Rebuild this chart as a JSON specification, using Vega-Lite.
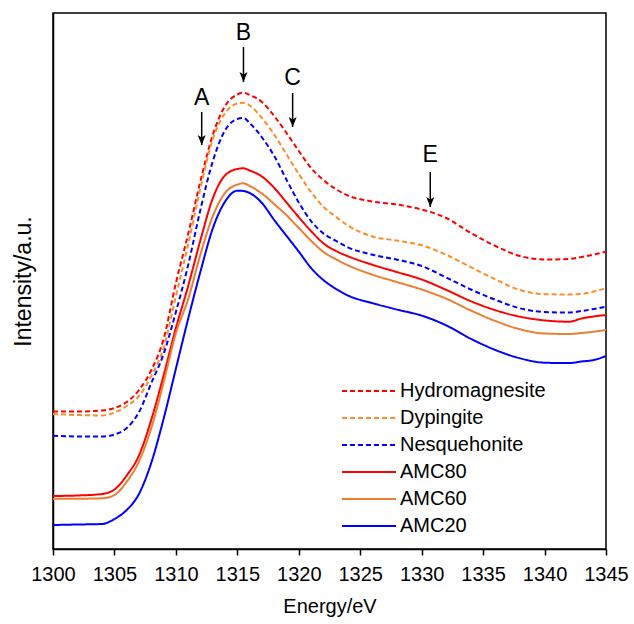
{
  "$schema": "https://vega.github.io/schema/vega-lite/v6.json",
  "width": 553,
  "height": 536,
  "autosize": {"type": "none"},
  "padding": {"left": 53, "top": 13, "right": 28, "bottom": 75},
  "background": "white",
  "config": {
    "font": "Liberation Sans",
    "view": {"stroke": "black", "strokeWidth": 1.5},
    "axis": {
      "labelFont": "Liberation Sans",
      "titleFont": "Liberation Sans",
      "labelColor": "black",
      "titleColor": "black",
      "domainColor": "black",
      "tickColor": "black",
      "grid": false,
      "titleFontWeight": "normal"
    }
  },
  "datasets": {
    "spectra": [
      {"E": 1300, "Hydromagnesite": 137.5, "Dypingite": 135, "Nesquehonite": 113.3, "AMC80": 53, "AMC60": 50.3, "AMC20": 24},
      {"E": 1302, "Hydromagnesite": 137.5, "Dypingite": 134, "Nesquehonite": 112.5, "AMC80": 53.5, "AMC60": 50.3, "AMC20": 24.5},
      {"E": 1304, "Hydromagnesite": 138.5, "Dypingite": 133.5, "Nesquehonite": 112.5, "AMC80": 55, "AMC60": 50.7, "AMC20": 25},
      {"E": 1305, "Hydromagnesite": 141, "Dypingite": 136.5, "Nesquehonite": 114.5, "AMC80": 59.5, "AMC60": 54, "AMC20": 30},
      {"E": 1306, "Hydromagnesite": 147, "Dypingite": 143, "Nesquehonite": 121, "AMC80": 73.5, "AMC60": 67.3, "AMC20": 39},
      {"E": 1307, "Hydromagnesite": 159, "Dypingite": 153, "Nesquehonite": 137, "AMC80": 93.7, "AMC60": 87.7, "AMC20": 55.2},
      {"E": 1308, "Hydromagnesite": 179, "Dypingite": 173, "Nesquehonite": 166, "AMC80": 129.3, "AMC60": 121, "AMC20": 86.3},
      {"E": 1309, "Hydromagnesite": 210, "Dypingite": 201, "Nesquehonite": 195, "AMC80": 173.5, "AMC60": 166.6, "AMC20": 130.2},
      {"E": 1310, "Hydromagnesite": 266, "Dypingite": 253, "Nesquehonite": 237, "AMC80": 221, "AMC60": 215.8, "AMC20": 180.3},
      {"E": 1311, "Hydromagnesite": 315, "Dypingite": 304.5, "Nesquehonite": 284, "AMC80": 263, "AMC60": 250, "AMC20": 230.3},
      {"E": 1312, "Hydromagnesite": 368, "Dypingite": 361, "Nesquehonite": 339.5, "AMC80": 309, "AMC60": 294.7, "AMC20": 277.5},
      {"E": 1313, "Hydromagnesite": 414, "Dypingite": 409.8, "Nesquehonite": 387.6, "AMC80": 350.6, "AMC60": 332.7, "AMC20": 320.5},
      {"E": 1314, "Hydromagnesite": 443, "Dypingite": 435.8, "Nesquehonite": 418.7, "AMC80": 373.6, "AMC60": 356.1, "AMC20": 347.4},
      {"E": 1315, "Hydromagnesite": 454.5, "Dypingite": 445.5, "Nesquehonite": 430, "AMC80": 380, "AMC60": 364.4, "AMC20": 358.3},
      {"E": 1315.5, "Hydromagnesite": 456.3, "Dypingite": 446.3, "Nesquehonite": 431, "AMC80": 380.7, "AMC60": 365.7, "AMC20": 358},
      {"E": 1316, "Hydromagnesite": 454, "Dypingite": 443.5, "Nesquehonite": 426, "AMC80": 378.5, "AMC60": 363, "AMC20": 356},
      {"E": 1317, "Hydromagnesite": 447, "Dypingite": 431, "Nesquehonite": 411.7, "AMC80": 372.5, "AMC60": 355.5, "AMC20": 346},
      {"E": 1318, "Hydromagnesite": 433, "Dypingite": 414.4, "Nesquehonite": 393, "AMC80": 361.2, "AMC60": 344.9, "AMC20": 329},
      {"E": 1319, "Hydromagnesite": 416, "Dypingite": 394.6, "Nesquehonite": 369.3, "AMC80": 346.5, "AMC60": 333.8, "AMC20": 313.2},
      {"E": 1320, "Hydromagnesite": 398, "Dypingite": 375, "Nesquehonite": 346.5, "AMC80": 331.8, "AMC60": 321, "AMC20": 297.4},
      {"E": 1321, "Hydromagnesite": 381, "Dypingite": 357, "Nesquehonite": 327.9, "AMC80": 317.9, "AMC60": 308.3, "AMC20": 281},
      {"E": 1322, "Hydromagnesite": 369, "Dypingite": 342.2, "Nesquehonite": 315.6, "AMC80": 305.7, "AMC60": 297.2, "AMC20": 269},
      {"E": 1323, "Hydromagnesite": 360, "Dypingite": 332.4, "Nesquehonite": 308.3, "AMC80": 298.2, "AMC60": 289.9, "AMC20": 260.3},
      {"E": 1324, "Hydromagnesite": 353.5, "Dypingite": 323.4, "Nesquehonite": 301.7, "AMC80": 292.8, "AMC60": 283.7, "AMC20": 253.5},
      {"E": 1326, "Hydromagnesite": 347.5, "Dypingite": 312.5, "Nesquehonite": 294.2, "AMC80": 284.2, "AMC60": 274.3, "AMC20": 245.9},
      {"E": 1328, "Hydromagnesite": 344.5, "Dypingite": 308.4, "Nesquehonite": 289.3, "AMC80": 276.9, "AMC60": 266.9, "AMC20": 239.4},
      {"E": 1330, "Hydromagnesite": 339.5, "Dypingite": 303.8, "Nesquehonite": 283, "AMC80": 269.5, "AMC60": 259.5, "AMC20": 233.4},
      {"E": 1332, "Hydromagnesite": 331, "Dypingite": 294.2, "Nesquehonite": 271.5, "AMC80": 259.1, "AMC60": 250.3, "AMC20": 223.6},
      {"E": 1334, "Hydromagnesite": 316, "Dypingite": 281.8, "Nesquehonite": 259.5, "AMC80": 247.8, "AMC60": 238.5, "AMC20": 210.2},
      {"E": 1336, "Hydromagnesite": 303, "Dypingite": 269.6, "Nesquehonite": 249.2, "AMC80": 238.8, "AMC60": 228, "AMC20": 199},
      {"E": 1338, "Hydromagnesite": 293, "Dypingite": 259, "Nesquehonite": 240.7, "AMC80": 232.3, "AMC60": 219.7, "AMC20": 190.7},
      {"E": 1340, "Hydromagnesite": 289.5, "Dypingite": 254.8, "Nesquehonite": 237, "AMC80": 228.6, "AMC60": 215.5, "AMC20": 186.3},
      {"E": 1342, "Hydromagnesite": 290, "Dypingite": 254.5, "Nesquehonite": 236.5, "AMC80": 227.3, "AMC60": 215, "AMC20": 185.9},
      {"E": 1343, "Hydromagnesite": 292, "Dypingite": 255, "Nesquehonite": 238, "AMC80": 230.5, "AMC60": 216, "AMC20": 187.5},
      {"E": 1344, "Hydromagnesite": 294.5, "Dypingite": 257.5, "Nesquehonite": 240, "AMC80": 232.5, "AMC60": 217.3, "AMC20": 189},
      {"E": 1345, "Hydromagnesite": 297.3, "Dypingite": 260.7, "Nesquehonite": 242.3, "AMC80": 234, "AMC60": 219, "AMC20": 193}
    ],
    "marks": [
      {"lab": "A", "E": 1312.1, "yl": 451.5, "y1": 437, "y2": 404},
      {"lab": "B", "E": 1315.5, "yl": 516, "y1": 502, "y2": 467},
      {"lab": "C", "E": 1319.5, "yl": 471, "y1": 456, "y2": 422},
      {"lab": "E", "E": 1330.7, "yl": 394, "y1": 377, "y2": 342}
    ]
  },
  "layer": [
    {
      "data": {"name": "spectra"},
      "transform": [{"fold": ["Hydromagnesite", "Dypingite", "Nesquehonite", "AMC80", "AMC60", "AMC20"], "as": ["series", "I"]}],
      "mark": {"type": "line", "strokeWidth": 2, "interpolate": "monotone"},
      "encoding": {
        "x": {
          "field": "E", "type": "quantitative", "title": "Energy/eV",
          "scale": {"domain": [1300, 1345], "nice": false, "zero": false},
          "axis": {"values": [1300, 1305, 1310, 1315, 1320, 1325, 1330, 1335, 1340, 1345], "format": "d", "labelFontSize": 20, "titleFontSize": 20, "tickSize": 6, "tickWidth": 1.5, "domainWidth": 1.5, "labelPadding": 9, "titlePadding": 12, "labelFlush": false}
        },
        "y": {
          "field": "I", "type": "quantitative", "title": "Intensity/a.u.",
          "scale": {"domain": [0, 536], "nice": false, "zero": false},
          "axis": {"labels": false, "ticks": false, "domainWidth": 1.5, "titleFontSize": 23, "titlePadding": 18}
        },
        "color": {
          "field": "series", "type": "nominal",
          "scale": {"domain": ["Hydromagnesite", "Dypingite", "Nesquehonite", "AMC80", "AMC60", "AMC20"], "range": ["#FF0000", "#FF8C28", "#0000FF", "#FF0000", "#ED7D31", "#0000FF"]},
          "legend": {"title": null, "orient": "none", "legendX": 306, "legendY": 368, "symbolType": "M-3,0H3", "symbolSize": 324, "symbolStrokeWidth": 2, "labelFontSize": 20, "labelFont": "Liberation Sans", "labelColor": "black", "labelOffset": 21, "rowPadding": 7, "padding": 0}
        },
        "strokeDash": {
          "field": "series", "type": "nominal",
          "scale": {"domain": ["Hydromagnesite", "Dypingite", "Nesquehonite", "AMC80", "AMC60", "AMC20"], "range": [[5, 3], [5, 3], [5, 3], [1, 0], [1, 0], [1, 0]]},
          "legend": {"title": null, "orient": "none", "legendX": 306, "legendY": 368, "symbolType": "M-3,0H3", "symbolSize": 324, "symbolStrokeWidth": 2, "labelFontSize": 20, "labelFont": "Liberation Sans", "labelColor": "black", "labelOffset": 21, "rowPadding": 7, "padding": 0}
        }
      }
    },
    {
      "data": {"name": "marks"},
      "mark": {"type": "text", "fontSize": 23, "font": "Liberation Sans", "color": "black", "baseline": "middle", "align": "center"},
      "encoding": {
        "x": {"field": "E", "type": "quantitative", "title": "Energy/eV"},
        "y": {"field": "yl", "type": "quantitative", "title": "Intensity/a.u."},
        "text": {"field": "lab"}
      }
    },
    {
      "data": {"name": "marks"},
      "mark": {"type": "rule", "strokeWidth": 1.5, "color": "black"},
      "encoding": {
        "x": {"field": "E", "type": "quantitative", "title": "Energy/eV"},
        "y": {"field": "y1", "type": "quantitative", "title": "Intensity/a.u."},
        "y2": {"field": "y2"}
      }
    },
    {
      "data": {"name": "marks"},
      "mark": {"type": "point", "shape": "M-0.8,-1L0,1L0.8,-1L0,-0.5Z", "size": 100, "filled": true, "color": "black", "opacity": 1, "yOffset": -5},
      "encoding": {
        "x": {"field": "E", "type": "quantitative", "title": "Energy/eV"},
        "y": {"field": "y2", "type": "quantitative", "title": "Intensity/a.u."}
      }
    }
  ]
}
